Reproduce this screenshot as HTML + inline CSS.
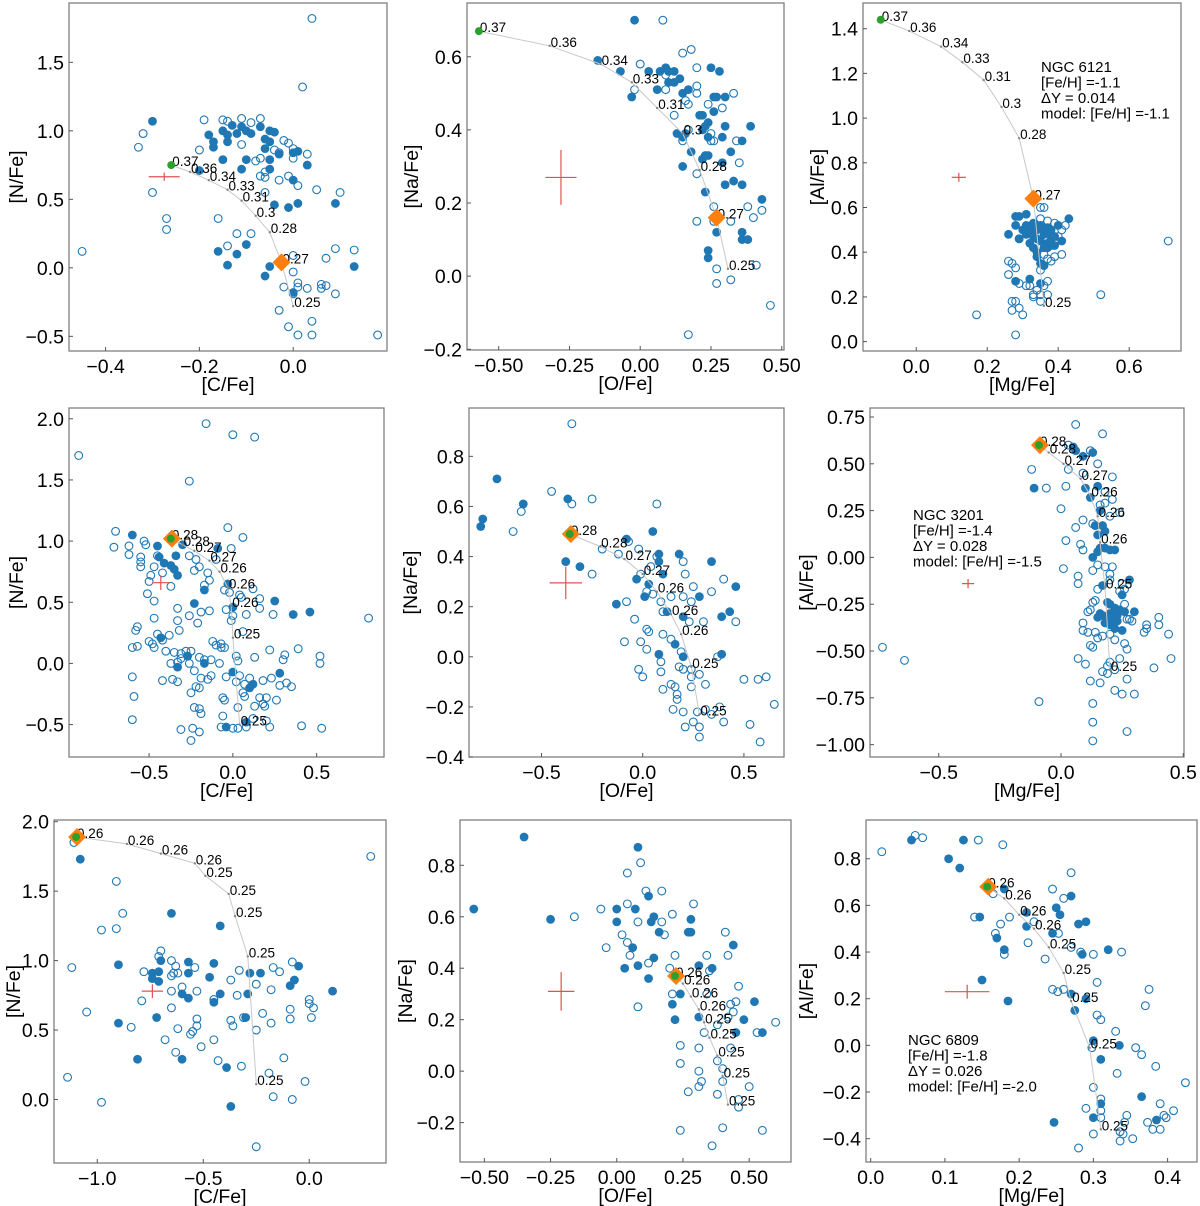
<!DOCTYPE html>
<html><head><meta charset="utf-8"><style>
html,body{margin:0;padding:0;background:#fff;}
svg{display:block;font-family:"Liberation Sans","DejaVu Sans",sans-serif;}
</style></head><body>
<svg id="fig" width="1200" height="1206" viewBox="0 0 1200 1206" xmlns="http://www.w3.org/2000/svg"></svg>
<script>
// ---------- DATA ----------
const p1Filled=[[-0.30,1.07],[-0.18,0.97],[-0.17,0.92],[-0.17,0.88],[-0.15,1.0],[-0.14,0.97],[-0.14,0.92],[-0.13,1.04],[-0.12,0.98],[-0.11,1.03],[-0.10,1.0],[-0.09,0.98],[-0.07,1.03],[-0.06,0.94],[-0.05,1.0],[-0.04,0.99],[-0.05,0.92],[-0.06,0.87],[-0.03,0.83],[0.0,0.84],[0.01,0.85],[-0.15,0.79],[-0.1,0.79],[-0.11,0.72],[-0.05,0.72],[-0.05,0.79],[0.03,0.75],[0.0,0.64],[-0.04,0.46],[-0.01,0.44],[0.01,0.47],[0.09,0.47],[-0.2,0.71],[-0.16,0.12],[-0.14,0.02],[-0.12,0.10],[-0.10,0.17],[-0.05,0.01],[-0.06,-0.06],[0.0,-0.18],[0.13,0.01]];
const p1Open=[[-0.45,0.12],[-0.33,0.88],[-0.32,0.98],[-0.30,0.55],[-0.27,0.36],[-0.27,0.28],[-0.2,0.86],[-0.19,1.08],[-0.16,0.36],[-0.15,1.08],[-0.14,1.07],[-0.11,1.09],[-0.11,0.9],[-0.09,1.06],[-0.07,1.09],[-0.08,0.78],[-0.07,0.8],[-0.06,0.7],[-0.07,0.67],[-0.06,0.55],[-0.03,0.84],[-0.04,0.86],[-0.02,0.93],[-0.01,0.91],[0.0,0.87],[0.0,0.8],[0.03,0.83],[-0.01,0.67],[0.01,0.6],[0.05,0.57],[0.1,0.55],[-0.03,0.64],[0.02,1.32],[0.04,1.82],[-0.12,0.25],[-0.09,0.25],[-0.14,0.16],[-0.06,0.66],[0.0,0.09],[0.07,0.07],[0.09,0.14],[0.13,0.13],[0.0,-0.03],[0.01,-0.11],[-0.02,-0.14],[0.01,-0.14],[0.03,-0.15],[0.06,-0.12],[0.06,-0.15],[0.07,-0.13],[0.09,-0.19],[0.0,-0.19],[-0.03,-0.31],[-0.01,-0.43],[0.01,-0.49],[0.04,-0.39],[0.04,-0.49],[0.18,-0.49]];
const p1Model=[[-0.26,0.75],[-0.22,0.70],[-0.18,0.64],[-0.14,0.57],[-0.11,0.49],[-0.08,0.38],[-0.05,0.26],[-0.025,0.04],[0.0,-0.28]];
const p1Labels=["0.37","0.36","0.34","0.33","0.31","0.3","0.28","0.27","0.25"];
const p1Marks=[0,7];
const p1Err=[-0.275,0.665,0.033,0.03];

const p2Filled=[[-0.02,0.70],[-0.15,0.59],[-0.07,0.56],[-0.03,0.49],[0.03,0.56],[0.06,0.51],[0.07,0.56],[0.09,0.57],[0.10,0.56],[0.10,0.53],[0.12,0.56],[0.12,0.53],[0.14,0.54],[0.15,0.50],[0.17,0.51],[0.13,0.39],[0.15,0.38],[0.16,0.39],[0.18,0.34],[0.15,0.30],[0.21,0.44],[0.22,0.44],[0.22,0.40],[0.23,0.41],[0.24,0.42],[0.24,0.38],[0.25,0.57],[0.26,0.49],[0.27,0.49],[0.28,0.56],[0.30,0.49],[0.26,0.45],[0.29,0.38],[0.30,0.41],[0.22,0.32],[0.23,0.33],[0.24,0.33],[0.29,0.31],[0.32,0.34],[0.33,0.26],[0.30,0.25],[0.36,0.25],[0.36,0.37],[0.39,0.41],[0.23,0.23],[0.27,0.12],[0.24,0.07],[0.24,0.05],[0.36,0.12],[0.36,0.10],[0.38,0.10],[0.43,0.21]];
const p2Open=[[0.08,0.70],[0.0,0.58],[0.09,0.55],[-0.02,0.51],[0.09,0.51],[0.15,0.61],[0.18,0.62],[0.20,0.57],[0.20,0.52],[0.20,0.50],[0.16,0.48],[0.17,0.47],[0.24,0.47],[0.12,0.44],[0.17,0.40],[0.15,0.37],[0.25,0.39],[0.25,0.37],[0.26,0.37],[0.29,0.46],[0.33,0.50],[0.34,0.37],[0.35,0.31],[0.20,0.28],[0.20,0.15],[0.26,0.19],[0.26,0.15],[0.32,0.15],[0.38,0.19],[0.40,0.16],[0.43,0.18],[0.27,0.02],[0.27,-0.02],[0.32,-0.01],[0.41,0.03],[0.46,-0.08],[0.17,-0.16]];
const p2Model=[[-0.57,0.67],[-0.32,0.63],[-0.14,0.58],[-0.03,0.53],[0.06,0.46],[0.15,0.39],[0.21,0.29],[0.27,0.16],[0.31,0.02]];
const p2Labels=["0.37","0.36","0.34","0.33","0.31","0.3","0.28","0.27","0.25"];
const p2Marks=[0,7];
const p2Err=[-0.28,0.27,0.055,0.075];

const p3Filled=[[0.26,0.48],[0.28,0.56],[0.29,0.56],[0.31,0.57],[0.28,0.52],[0.29,0.46],[0.30,0.50],[0.31,0.52],[0.32,0.49],[0.33,0.47],[0.34,0.50],[0.35,0.45],[0.35,0.52],[0.36,0.48],[0.37,0.44],[0.38,0.50],[0.39,0.47],[0.37,0.42],[0.34,0.40],[0.34,0.38],[0.35,0.35],[0.36,0.34],[0.40,0.52],[0.43,0.55],[0.41,0.45],[0.38,0.46],[0.36,0.42],[0.32,0.44],[0.33,0.42],[0.28,0.27],[0.32,0.28],[0.35,0.26],[0.33,0.53],[0.37,0.51],[0.39,0.43],[0.34,0.46],[0.31,0.48],[0.36,0.50],[0.33,0.50],[0.38,0.48]];
const p3Open=[[0.36,0.60],[0.35,0.60],[0.35,0.55],[0.37,0.54],[0.39,0.53],[0.41,0.50],[0.42,0.52],[0.40,0.47],[0.38,0.43],[0.39,0.38],[0.41,0.39],[0.37,0.37],[0.38,0.36],[0.36,0.39],[0.29,0.46],[0.26,0.36],[0.27,0.35],[0.28,0.33],[0.26,0.30],[0.29,0.26],[0.31,0.25],[0.32,0.25],[0.33,0.21],[0.34,0.23],[0.35,0.21],[0.36,0.25],[0.37,0.27],[0.35,0.32],[0.27,0.18],[0.28,0.18],[0.27,0.14],[0.29,0.15],[0.30,0.12],[0.33,0.20],[0.35,0.18],[0.37,0.21],[0.17,0.12],[0.28,0.03],[0.52,0.21],[0.71,0.45]];
const p3Model=[[-0.10,1.44],[-0.02,1.39],[0.07,1.32],[0.13,1.25],[0.19,1.17],[0.24,1.05],[0.29,0.91],[0.33,0.64],[0.36,0.16]];
const p3Labels=["0.37","0.36","0.34","0.33","0.31","0.3","0.28","0.27","0.25"];
const p3Marks=[0,7];
const p3Err=[0.12,0.735,0.02,0.02];

const p4Filled=[[-0.6,1.05],[-0.45,0.96],[-0.44,0.87],[-0.41,0.82],[-0.37,0.8],[-0.35,0.77],[-0.34,0.88],[-0.33,0.72],[-0.3,0.97],[-0.09,0.94],[-0.17,0.6],[-0.23,0.49],[-0.03,0.65],[0.0,0.46],[0.25,0.51],[0.36,0.40],[0.46,0.42],[-0.43,0.21],[-0.27,0.06],[-0.33,-0.03],[-0.17,0.0],[0.0,-0.07],[0.1,-0.2],[0.12,-0.17],[0.28,-0.08],[-0.04,-0.52],[0.08,-0.48]];
const p4Open=[[-0.92,1.70],[-0.16,1.96],[0.0,1.87],[0.13,1.85],[-0.26,1.49],[-0.7,1.08],[-0.71,0.95],[-0.62,0.96],[-0.62,0.89],[-0.53,1.0],[-0.52,0.97],[-0.55,0.87],[-0.55,0.83],[-0.55,0.79],[-0.49,0.72],[-0.47,0.79],[-0.45,0.88],[-0.42,0.74],[-0.5,0.67],[-0.51,0.57],[-0.47,0.51],[-0.37,0.63],[-0.26,0.88],[-0.22,0.85],[-0.2,0.79],[-0.23,0.76],[-0.15,0.74],[-0.14,0.68],[-0.17,0.64],[-0.1,0.85],[-0.03,1.11],[-0.01,0.94],[0.06,1.03],[-0.05,0.6],[-0.02,0.58],[0.04,0.56],[0.05,0.54],[0.12,0.61],[0.16,0.53],[0.16,0.45],[0.08,0.4],[-0.04,0.44],[-0.01,0.35],[0.0,0.39],[0.24,0.4],[0.81,0.37],[-0.33,0.45],[-0.33,0.35],[-0.32,0.27],[-0.19,0.42],[-0.14,0.43],[-0.26,0.39],[-0.21,0.33],[-0.58,0.27],[-0.57,0.3],[-0.6,0.13],[-0.57,0.14],[-0.47,0.37],[-0.5,0.18],[-0.48,0.16],[-0.47,0.13],[-0.45,0.24],[-0.38,0.23],[-0.42,0.19],[-0.4,0.1],[-0.35,0.09],[-0.31,0.08],[-0.28,0.1],[-0.25,0.1],[-0.37,0.0],[-0.33,0.01],[-0.31,0.04],[-0.26,0.0],[-0.2,0.05],[-0.17,0.03],[-0.12,0.18],[-0.1,0.15],[-0.07,0.16],[-0.05,0.13],[-0.13,0.03],[-0.08,0.0],[-0.07,0.13],[0.02,0.06],[0.03,0.02],[0.06,0.26],[0.13,0.05],[0.22,0.11],[0.31,0.07],[0.39,0.12],[0.52,0.06],[0.52,0.0],[0.3,0.03],[-0.6,-0.11],[-0.42,-0.14],[-0.36,-0.13],[-0.33,-0.15],[-0.23,-0.06],[-0.19,-0.12],[-0.15,-0.13],[-0.13,-0.1],[-0.04,-0.11],[0.02,-0.15],[0.04,-0.1],[0.07,-0.17],[0.1,-0.12],[0.18,-0.14],[0.23,-0.12],[0.28,-0.18],[0.32,-0.16],[0.35,-0.19],[-0.22,-0.19],[-0.25,-0.24],[-0.2,-0.2],[-0.59,-0.27],[-0.23,-0.36],[-0.19,-0.41],[-0.06,-0.28],[-0.05,-0.3],[0.06,-0.24],[0.07,-0.27],[0.16,-0.28],[0.2,-0.28],[0.18,-0.33],[0.19,-0.35],[0.26,-0.3],[0.13,-0.35],[-0.2,-0.37],[0.03,-0.36],[-0.06,-0.43],[-0.6,-0.46],[-0.31,-0.54],[-0.24,-0.53],[-0.2,-0.56],[-0.25,-0.63],[-0.07,-0.52],[0.0,-0.53],[0.03,-0.53],[0.08,-0.52],[0.12,-0.45],[0.2,-0.47],[0.22,-0.52],[0.41,-0.51],[0.53,-0.53]];
const p4Model=[[-0.37,1.02],[-0.30,0.97],[-0.23,0.92],[-0.14,0.84],[-0.08,0.75],[-0.03,0.62],[-0.01,0.47],[0.0,0.21],[0.04,-0.5]];
const p4Labels=["0.28","0.28","0.27","0.27","0.26","0.26","0.26","0.25","0.25"];
const p4Marks=[0,0];
const p4Err=[-0.43,0.66,0.05,0.06];

const p5Filled=[[-0.72,0.71],[-0.79,0.55],[-0.8,0.52],[-0.59,0.61],[-0.37,0.63],[-0.38,0.38],[-0.31,0.36],[-0.13,0.21],[-0.08,0.47],[-0.03,0.31],[0.01,0.24],[0.03,0.29],[0.05,0.5],[0.08,0.41],[0.08,0.38],[0.1,0.33],[0.12,0.18],[0.18,0.41],[0.2,0.16],[0.16,0.05],[0.2,0.0],[0.08,0.01],[0.28,0.24],[0.34,0.38],[0.39,0.16],[0.43,0.18],[0.46,0.28],[0.39,0.01]];
const p5Open=[[-0.35,0.93],[-0.45,0.66],[-0.6,0.58],[-0.64,0.5],[-0.35,0.61],[-0.25,0.63],[0.07,0.61],[-0.2,0.43],[-0.12,0.41],[-0.07,0.46],[-0.02,0.43],[-0.01,0.33],[0.02,0.26],[0.04,0.36],[0.05,0.25],[0.07,0.4],[-0.25,0.33],[-0.08,0.22],[-0.04,0.15],[0.02,0.11],[0.03,0.1],[0.09,0.22],[0.1,0.18],[0.14,0.24],[0.2,0.38],[0.21,0.33],[0.25,0.28],[0.24,0.22],[0.2,0.24],[0.23,0.14],[0.3,0.14],[0.34,0.26],[0.4,0.31],[0.46,0.14],[-0.09,0.06],[-0.01,0.06],[0.02,0.03],[0.1,0.09],[0.14,0.07],[0.19,0.02],[0.09,-0.02],[0.09,-0.06],[-0.02,-0.05],[0.0,-0.08],[0.18,-0.04],[0.2,-0.05],[0.24,-0.05],[0.24,-0.08],[0.28,-0.07],[0.31,-0.11],[0.1,-0.13],[0.14,-0.11],[0.16,-0.12],[0.17,-0.15],[0.17,-0.17],[0.24,-0.12],[0.15,-0.21],[0.2,-0.22],[0.27,-0.22],[0.31,-0.21],[0.25,-0.26],[0.21,-0.28],[0.28,-0.28],[0.28,-0.32],[0.34,-0.23],[0.38,-0.2],[0.4,-0.26],[0.37,0.0],[0.5,-0.09],[0.57,-0.09],[0.61,-0.08],[0.53,-0.27],[0.58,-0.34],[0.65,-0.19]];
const p5Model=[[-0.36,0.49],[-0.21,0.44],[-0.09,0.39],[0.0,0.33],[0.07,0.26],[0.14,0.17],[0.19,0.09],[0.24,-0.04],[0.28,-0.23]];
const p5Labels=["0.28","0.28","0.27","0.27","0.26","0.26","0.26","0.25","0.25"];
const p5Marks=[0,0];
const p5Err=[-0.38,0.295,0.08,0.065];

const p6Filled=[[-0.11,0.37],[0.05,0.59],[0.06,0.57],[0.09,0.54],[0.13,0.56],[0.1,0.37],[0.12,0.32],[0.15,0.38],[0.16,0.25],[0.14,0.17],[0.17,0.17],[0.18,0.14],[0.15,0.12],[0.16,0.05],[0.18,0.05],[0.2,0.04],[0.22,0.04],[0.15,0.03],[0.13,0.0],[0.17,-0.15],[0.28,-0.12],[0.25,-0.2],[0.19,-0.24],[0.2,-0.25],[0.22,-0.27],[0.24,-0.28],[0.26,-0.29],[0.3,-0.29],[0.15,-0.32],[0.17,-0.31],[0.19,-0.33],[0.21,-0.33],[0.23,-0.34],[0.2,-0.36],[0.22,-0.38],[0.25,-0.39],[0.18,-0.35],[0.16,-0.3],[0.2,-0.3],[0.23,-0.31]];
const p6Open=[[0.06,0.71],[0.17,0.66],[0.03,0.6],[0.12,0.57],[0.15,0.5],[-0.12,0.47],[-0.06,0.37],[0.03,0.47],[0.09,0.45],[0.21,0.43],[0.02,0.38],[0.18,0.35],[0.21,0.31],[0.18,0.29],[0.0,0.26],[0.09,0.2],[0.13,0.18],[0.16,0.28],[0.2,0.22],[0.24,0.24],[0.06,0.16],[0.02,0.09],[0.08,0.07],[0.09,0.04],[0.18,-0.05],[0.2,-0.12],[0.21,-0.05],[0.2,-0.09],[0.25,-0.14],[0.24,-0.18],[0.26,-0.17],[0.15,-0.04],[0.13,-0.07],[0.15,-0.17],[0.13,-0.24],[0.01,-0.06],[0.07,-0.1],[0.07,-0.14],[0.12,-0.28],[0.14,-0.23],[0.11,-0.29],[0.26,-0.25],[0.27,-0.33],[0.29,-0.34],[0.09,-0.35],[0.09,-0.39],[0.11,-0.4],[0.14,-0.4],[0.15,-0.43],[0.17,-0.42],[0.2,-0.41],[0.22,-0.44],[0.26,-0.46],[0.28,-0.33],[0.35,-0.36],[0.35,-0.38],[0.34,-0.4],[0.4,-0.32],[0.4,-0.36],[0.44,-0.41],[0.45,-0.54],[0.38,-0.59],[0.27,-0.49],[0.24,-0.54],[0.2,-0.56],[0.19,-0.58],[0.19,-0.62],[0.22,-0.6],[0.27,-0.65],[0.13,-0.48],[0.12,-0.47],[0.07,-0.54],[0.1,-0.57],[0.17,-0.61],[0.12,-0.66],[0.16,-0.67],[0.22,-0.71],[0.25,-0.73],[0.3,-0.73],[0.13,-0.78],[0.13,-0.88],[0.13,-0.98],[0.27,-0.93],[-0.09,-0.77],[-0.73,-0.48],[-0.64,-0.55]];
const p6Model=[[-0.09,0.6],[-0.05,0.56],[0.01,0.5],[0.08,0.42],[0.12,0.33],[0.15,0.22],[0.16,0.08],[0.18,-0.16],[0.2,-0.6]];
const p6Labels=["0.28","0.28","0.27","0.27","0.26","0.26","0.26","0.25","0.25"];
const p6Marks=[0,0];
const p6Err=[-0.38,-0.14,0.025,0.025];

const p7Filled=[[-1.08,1.73],[-0.9,0.97],[-0.9,0.55],[-0.81,0.29],[-0.74,0.91],[-0.74,0.87],[-0.71,0.92],[-0.70,1.0],[-0.71,0.85],[-0.72,0.59],[-0.65,1.34],[-0.6,0.76],[-0.57,0.99],[-0.57,0.91],[-0.57,0.73],[-0.6,0.29],[-0.47,0.88],[-0.45,0.98],[-0.45,0.7],[-0.42,1.25],[-0.42,0.76],[-0.39,0.23],[-0.37,-0.05],[-0.3,0.59],[-0.29,0.76],[-0.28,0.91],[-0.23,0.91],[-0.09,0.82],[-0.07,0.86],[-0.05,0.96],[0.11,0.78]];
const p7Open=[[-1.11,1.85],[-1.12,0.95],[-1.14,0.16],[-1.05,0.63],[-0.98,1.22],[-0.98,-0.02],[-0.91,1.57],[-0.88,1.34],[-0.91,1.23],[-0.84,0.52],[-0.79,0.71],[-0.78,0.92],[-0.7,1.07],[-0.71,1.03],[-0.65,1.0],[-0.63,0.96],[-0.64,0.91],[-0.65,0.89],[-0.62,0.91],[-0.65,0.78],[-0.65,0.66],[-0.6,0.81],[-0.62,0.51],[-0.68,0.43],[-0.63,0.34],[-0.54,0.95],[-0.53,0.78],[-0.53,0.58],[-0.53,0.53],[-0.55,0.49],[-0.56,0.47],[-0.51,0.38],[-0.45,0.72],[-0.45,0.43],[-0.43,0.28],[-0.37,0.86],[-0.37,0.57],[-0.36,0.53],[-0.34,0.75],[-0.33,0.93],[-0.31,0.59],[-0.32,0.24],[-0.25,0.83],[-0.25,0.5],[-0.22,0.62],[-0.18,0.79],[-0.18,0.55],[-0.17,0.95],[-0.14,0.92],[-0.08,0.99],[-0.09,0.65],[-0.09,0.58],[-0.12,0.3],[-0.19,0.19],[-0.17,0.02],[-0.08,0.0],[-0.02,0.13],[0.0,0.72],[0.0,0.69],[0.02,0.66],[0.01,0.59],[0.29,1.75],[-0.25,-0.34]];
const p7Model=[[-1.1,1.89],[-0.86,1.84],[-0.7,1.77],[-0.54,1.70],[-0.49,1.61],[-0.38,1.48],[-0.35,1.32],[-0.29,1.03],[-0.25,0.11]];
const p7Labels=["0.26","0.26","0.26","0.26","0.25","0.25","0.25","0.25","0.25"];
const p7Marks=[0,0];
const p7Err=[-0.74,0.78,0.05,0.05];

const p8Filled=[[-0.54,0.63],[-0.35,0.91],[-0.25,0.59],[0.0,0.63],[0.0,0.58],[0.03,0.4],[0.06,0.48],[0.07,0.63],[0.08,0.87],[0.08,0.41],[0.12,0.68],[0.13,0.58],[0.14,0.6],[0.14,0.44],[0.16,0.54],[0.12,0.36],[0.21,0.26],[0.22,0.2],[0.24,0.3],[0.27,0.54],[0.28,0.54],[0.28,0.59],[0.31,0.41],[0.31,0.21],[0.36,0.4],[0.44,0.49],[0.45,0.15],[0.48,0.2],[0.52,0.27],[0.55,0.15]];
const p8Open=[[-0.16,0.6],[-0.06,0.63],[-0.04,0.48],[0.02,0.53],[0.04,0.5],[0.04,0.65],[0.04,0.77],[0.05,0.45],[0.08,0.58],[0.09,0.81],[0.11,0.7],[0.12,0.42],[0.17,0.58],[0.17,0.7],[0.18,0.53],[0.08,0.25],[0.2,0.4],[0.21,0.61],[0.22,0.45],[0.21,0.3],[0.29,0.65],[0.34,0.45],[0.35,0.39],[0.34,0.3],[0.41,0.54],[0.42,0.45],[0.46,0.33],[0.45,0.27],[0.43,0.26],[0.42,0.21],[0.44,0.23],[0.38,0.18],[0.33,0.15],[0.31,0.09],[0.24,0.1],[0.24,0.03],[0.31,0.0],[0.32,-0.04],[0.31,-0.06],[0.27,-0.08],[0.38,0.04],[0.4,0.01],[0.4,-0.04],[0.38,-0.09],[0.43,0.09],[0.46,-0.11],[0.46,-0.14],[0.5,-0.06],[0.53,0.15],[0.6,0.19],[0.24,-0.23],[0.4,-0.22],[0.55,-0.23],[0.36,-0.29]];
const p8Model=[[0.22,0.37],[0.25,0.34],[0.28,0.29],[0.31,0.24],[0.33,0.19],[0.35,0.13],[0.38,0.06],[0.40,-0.02],[0.42,-0.13]];
const p8Labels=["0.26","0.26","0.26","0.26","0.25","0.25","0.25","0.25","0.25"];
const p8Marks=[0,0];
const p8Err=[-0.21,0.31,0.05,0.075];

const p9Filled=[[0.055,0.88],[0.125,0.88],[0.105,0.8],[0.12,0.76],[0.18,0.67],[0.21,0.57],[0.21,0.51],[0.25,0.59],[0.255,0.56],[0.245,0.48],[0.27,0.64],[0.28,0.52],[0.29,0.53],[0.285,0.39],[0.32,0.41],[0.147,0.55],[0.17,0.46],[0.18,0.41],[0.15,0.28],[0.185,0.19],[0.27,0.22],[0.275,0.15],[0.29,0.2],[0.3,0.02],[0.335,0.0],[0.31,-0.06],[0.365,-0.22],[0.31,-0.25],[0.3,-0.31],[0.247,-0.33],[0.385,-0.32]];
const p9Open=[[0.015,0.83],[0.06,0.9],[0.07,0.89],[0.145,0.88],[0.178,0.86],[0.27,0.74],[0.245,0.67],[0.26,0.63],[0.165,0.65],[0.14,0.55],[0.175,0.52],[0.187,0.55],[0.168,0.48],[0.22,0.53],[0.212,0.44],[0.253,0.48],[0.18,0.39],[0.235,0.37],[0.27,0.42],[0.283,0.4],[0.3,0.39],[0.338,0.4],[0.305,0.27],[0.245,0.24],[0.252,0.23],[0.26,0.24],[0.375,0.24],[0.37,0.17],[0.305,0.13],[0.31,0.11],[0.33,0.06],[0.298,-0.01],[0.357,-0.01],[0.365,-0.04],[0.384,-0.09],[0.424,-0.16],[0.332,-0.12],[0.3,-0.18],[0.31,-0.23],[0.31,-0.28],[0.29,-0.27],[0.31,-0.31],[0.345,-0.3],[0.342,-0.33],[0.373,-0.33],[0.39,-0.25],[0.395,-0.3],[0.398,-0.31],[0.408,-0.28],[0.39,-0.36],[0.38,-0.36],[0.336,-0.37],[0.34,-0.38],[0.336,-0.41],[0.353,-0.4],[0.3,-0.38],[0.28,-0.44]];
const p9Model=[[0.157,0.68],[0.18,0.63],[0.2,0.56],[0.22,0.5],[0.24,0.42],[0.26,0.31],[0.27,0.19],[0.295,-0.01],[0.31,-0.36]];
const p9Labels=["0.26","0.26","0.26","0.26","0.25","0.25","0.25","0.25","0.25"];
const p9Marks=[0,0];
const p9Err=[0.13,0.23,0.03,0.03];

const xTicks1=[-0.4,-0.2,0.0], yTicks1=[-0.5,0.0,0.5,1.0,1.5];
const xTicks2=[-0.5,-0.25,0.0,0.25,0.5], yTicks2=[-0.2,0.0,0.2,0.4,0.6];
const xTicks3=[0.0,0.2,0.4,0.6], yTicks3=[0.0,0.2,0.4,0.6,0.8,1.0,1.2,1.4];
const xTicks4=[-0.5,0.0,0.5], yTicks4=[-0.5,0.0,0.5,1.0,1.5,2.0];
const xTicks5=[-0.5,0.0,0.5], yTicks5=[-0.4,-0.2,0.0,0.2,0.4,0.6,0.8];
const xTicks6=[-0.5,0.0,0.5], yTicks6=[-1.0,-0.75,-0.5,-0.25,0.0,0.25,0.5,0.75];
const xTicks7=[-1.0,-0.5,0.0], yTicks7=[0.0,0.5,1.0,1.5,2.0];
const xTicks8=[-0.5,-0.25,0.0,0.25,0.5], yTicks8=[-0.2,0.0,0.2,0.4,0.6,0.8];
const xTicks9=[0.0,0.1,0.2,0.3,0.4], yTicks9=[-0.4,-0.2,0.0,0.2,0.4,0.6,0.8];

const notes3=["NGC 6121","[Fe/H] =-1.1","ΔY = 0.014","model: [Fe/H] =-1.1"];
const notes6=["NGC 3201","[Fe/H] =-1.4","ΔY = 0.028","model: [Fe/H] =-1.5"];
const notes9=["NGC 6809","[Fe/H] =-1.8","ΔY = 0.026","model: [Fe/H] =-2.0"];

// ---------- LAYOUT ----------
const panels=[
 {id:1,box:[69,3,387,351],xr:[-0.478,0.2],yr:[-0.607,1.933],xl:"[C/Fe]",yl:"[N/Fe]",f:p1Filled,o:p1Open,m:p1Model,lab:p1Labels,mk:p1Marks,err:p1Err,xt:xTicks1,yt:yTicks1,xd:1,yd:1,ytx:16},
 {id:2,box:[467,3,784,350],xr:[-0.612,0.508],yr:[-0.202,0.747],xl:"[O/Fe]",yl:"[Na/Fe]",f:p2Filled,o:p2Open,m:p2Model,lab:p2Labels,mk:p2Marks,err:p2Err,xt:xTicks2,yt:yTicks2,xd:2,yd:1,ytx:411},
 {id:3,box:[863,3,1181,351],xr:[-0.15,0.746],yr:[-0.042,1.515],xl:"[Mg/Fe]",yl:"[Al/Fe]",f:p3Filled,o:p3Open,m:p3Model,lab:p3Labels,mk:p3Marks,err:p3Err,xt:xTicks3,yt:yTicks3,xd:1,yd:1,notes:notes3,np:[1041,72],ytx:817},
 {id:4,box:[69,408,384,757],xr:[-0.978,0.902],yr:[-0.765,2.088],xl:"[C/Fe]",yl:"[N/Fe]",f:p4Filled,o:p4Open,m:p4Model,lab:p4Labels,mk:p4Marks,err:p4Err,xt:xTicks4,yt:yTicks4,xd:1,yd:1,ytx:16},
 {id:5,box:[469,408,784,757],xr:[-0.858,0.698],yr:[-0.4,0.993],xl:"[O/Fe]",yl:"[Na/Fe]",f:p5Filled,o:p5Open,m:p5Model,lab:p5Labels,mk:p5Marks,err:p5Err,xt:xTicks5,yt:yTicks5,xd:1,yd:1,ytx:410},
 {id:6,box:[870,408,1184,757],xr:[-0.781,0.503],yr:[-1.066,0.798],xl:"[Mg/Fe]",yl:"[Al/Fe]",f:p6Filled,o:p6Open,m:p6Model,lab:p6Labels,mk:p6Marks,err:p6Err,xt:xTicks6,yt:yTicks6,xd:1,yd:2,notes:notes6,np:[913,520],ytx:806},
 {id:7,box:[54,820,386,1163],xr:[-1.204,0.362],yr:[-0.457,2.012],xl:"[C/Fe]",yl:"[N/Fe]",f:p7Filled,o:p7Open,m:p7Model,lab:p7Labels,mk:p7Marks,err:p7Err,xt:xTicks7,yt:yTicks7,xd:1,yd:1,ytx:13},
 {id:8,box:[460,820,791,1162],xr:[-0.592,0.658],yr:[-0.353,0.976],xl:"[O/Fe]",yl:"[Na/Fe]",f:p8Filled,o:p8Open,m:p8Model,lab:p8Labels,mk:p8Marks,err:p8Err,xt:xTicks8,yt:yTicks8,xd:2,yd:1,ytx:405},
 {id:9,box:[866,820,1197,1162],xr:[-0.0063,0.4396],yr:[-0.5,0.966],xl:"[Mg/Fe]",yl:"[Al/Fe]",f:p9Filled,o:p9Open,m:p9Model,lab:p9Labels,mk:p9Marks,err:p9Err,xt:xTicks9,yt:yTicks9,xd:1,yd:1,notes:notes9,np:[908,1045],ytx:806}
];

const NS="http://www.w3.org/2000/svg";
const svg=document.getElementById('fig');
const BLUE="#1f77b4";
function el(tag,attrs,parent){const e=document.createElementNS(NS,tag);for(const k in attrs)e.setAttribute(k,attrs[k]);(parent||svg).appendChild(e);return e;}
function fmt(v,d){const s=Math.abs(v).toFixed(d);return (v<0?"\u2212":"")+s;}

panels.forEach(p=>{
  const [x0,y0,x1,y1]=p.box;
  const sx=v=>x0+(v-p.xr[0])/(p.xr[1]-p.xr[0])*(x1-x0);
  const sy=v=>y1-(v-p.yr[0])/(p.yr[1]-p.yr[0])*(y1-y0);
  const g=el('g',{});
  
  
  const cid='clip'+p.id;
  const cp=el('clipPath',{id:cid},g);
  el('rect',{x:x0,y:y0,width:x1-x0,height:y1-y0},cp);
  const plot=el('g',{'clip-path':'url(#'+cid+')'},g);
  
  
  p.o.forEach(d=>{
    const c=el('circle',{cx:sx(d[0]),cy:sy(d[1]),r:3.9,fill:'none',stroke:BLUE,'stroke-width':1.1},plot);
    
    
  });
  p.f.forEach(d=>{
    const c=el('circle',{cx:sx(d[0]),cy:sy(d[1]),r:4.4,fill:BLUE},plot);
    
    
  });
  let dstr=p.m.map((d,i)=>(i?'L':'M')+sx(d[0]).toFixed(1)+','+sy(d[1]).toFixed(1)).join(' ');
  const path=el('path',{d:dstr,fill:'none',stroke:'#c8c8c8','stroke-width':1},plot);
  
  
  p.m.forEach((d,i)=>{
    const dot=el('circle',{cx:sx(d[0]),cy:sy(d[1]),r:1.2,fill:'#888'},plot);
    
    
    const t=el('text',{x:sx(d[0])+1,y:sy(d[1])+1,'font-size':13.5,fill:'#000'},plot);
    t.textContent=p.lab[i];
    
    
  });
  const dm=p.m[p.mk[1]], gs=p.m[p.mk[0]];
  const dx=sx(dm[0])+(p.mk[1]===p.mk[0]?1:0), dy=sy(dm[1]);
  const dia=el('path',{d:`M${dx},${dy-9} L${dx+9},${dy} L${dx},${dy+9} L${dx-9},${dy} Z`,fill:'#ff7f0e'},plot);
  
  
  const gc=el('circle',{cx:sx(gs[0]),cy:sy(gs[1]),r:4,fill:'#2ca02c'},plot);
  
  
  const e=p.err;
  const eg=el('g',{stroke:'#e05050','stroke-width':1.2},plot);
  
  
  el('line',{x1:sx(e[0]-e[2]),x2:sx(e[0]+e[2]),y1:sy(e[1]),y2:sy(e[1])},eg);
  el('line',{x1:sx(e[0]),x2:sx(e[0]),y1:sy(e[1]-e[3]),y2:sy(e[1]+e[3])},eg);
  const fr=el('rect',{x:x0,y:y0,width:x1-x0,height:y1-y0,fill:'none',stroke:'#808080','stroke-width':1.3},g);
  
  
  p.xt.forEach(v=>{
    const X=sx(v);
    el('line',{x1:X,x2:X,y1:y1,y2:y1-4,stroke:'#555','stroke-width':1},g);
    const t=el('text',{x:X,y:y1+22,'font-size':19.5,'text-anchor':'middle',fill:'#000'},g);
    t.textContent=fmt(v,p.xd===2?2:1);
    
    
  });
  p.yt.forEach(v=>{
    const Y=sy(v);
    el('line',{x1:x0,x2:x0+4,y1:Y,y2:Y,stroke:'#555','stroke-width':1},g);
    const t=el('text',{x:x0-5,y:Y+7,'font-size':19.5,'text-anchor':'end',fill:'#000'},g);
    t.textContent=fmt(v,p.yd===2?2:1);
    
    
  });
  const xt=el('text',{x:(x0+x1)/2,y:y1+40,'font-size':19.5,'text-anchor':'middle',fill:'#000'},g);
  xt.textContent=p.xl;
  
  
  const yx=p.ytx+7;
  const yy=(y0+y1)/2;
  const ytl=el('text',{x:yx,y:yy,'font-size':19.5,'text-anchor':'middle',fill:'#000',transform:`rotate(-90 ${yx} ${yy})`},g);
  ytl.textContent=p.yl;
  
  
  if(p.notes){
    p.notes.forEach((s,i)=>{
      const t=el('text',{x:p.np[0],y:p.np[1]+i*15.5,'font-size':15,fill:'#000'},g);
      t.textContent=s;
      
      
    });
  }
});
</script>
</body></html>
